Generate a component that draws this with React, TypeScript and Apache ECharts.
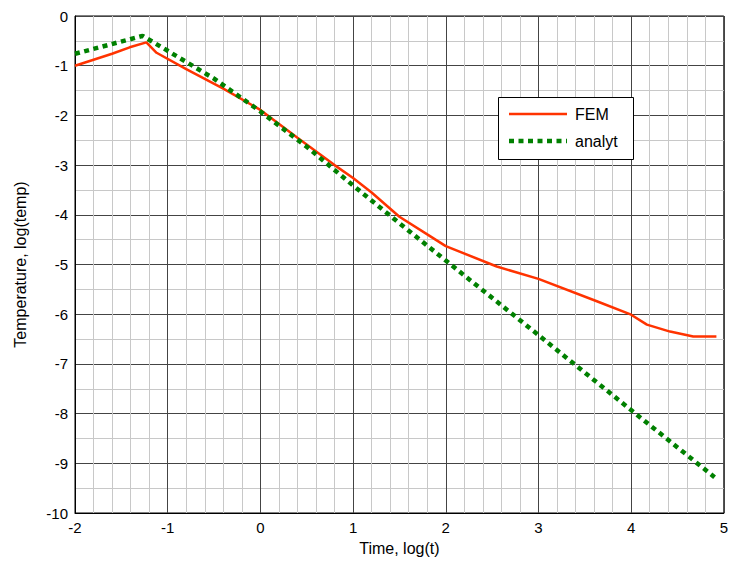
import React, { useEffect, useRef } from "react";
import * as echarts from "echarts";

const femX = [-2, -1.6, -1.41, -1.23, -1.12, -0.8, -0.4, 0, 0.4, 0.8, 1, 1.2, 1.5, 1.83, 2, 2.55, 3, 3.63, 4, 4.17, 4.42, 4.67, 4.92];
const femY = [-1.0, -0.76, -0.63, -0.53, -0.74, -1.07, -1.46, -1.89, -2.45, -3.0, -3.26, -3.55, -4.04, -4.43, -4.63, -5.04, -5.29, -5.74, -6.01, -6.21, -6.35, -6.45, -6.45];

const anX = [-2, -1.27, -1, -0.5, 0, 0.5, 1, 1.5, 2, 3, 4, 4.9];
const anY = [-0.76, -0.4, -0.7, -1.26, -1.92, -2.63, -3.41, -4.17, -4.92, -6.42, -7.93, -9.28];

const seriesNames = ["FEM", "analyt"];

const FONT = "Liberation Sans";
const RED = "#ff3300";
const GREEN = "#008000";

export default function App() {
  const ref = useRef<HTMLDivElement>(null);
  useEffect(() => {
    if (!ref.current) return;
    const chart = echarts.init(ref.current, undefined, { renderer: "svg" });
    const fem = femX.map((x, i) => [x, femY[i]]);
    const an = anX.map((x, i) => [x, anY[i]]);
    const LX = 498;
    const LY = 97;
    chart.setOption({
      animation: false,
      backgroundColor: "#fff",
      grid: {
        left: 75,
        right: 7,
        top: 16,
        bottom: 56,
        show: true,
        borderColor: "#000",
        borderWidth: 1,
        backgroundColor: "transparent",
      },
      graphic: [
        {
          type: "rect",
          z: 100,
          shape: { x: LX + 0.5, y: LY + 0.5, width: 135, height: 62 },
          style: { fill: "#fff", stroke: "#000", lineWidth: 1 },
        },
        {
          type: "line",
          z: 101,
          shape: { x1: LX + 11, y1: LY + 17, x2: LX + 69, y2: LY + 17 },
          style: { stroke: RED, lineWidth: 2.5 },
        },
        {
          type: "line",
          z: 101,
          shape: { x1: LX + 11, y1: LY + 44, x2: LX + 69, y2: LY + 44 },
          style: { stroke: GREEN, lineWidth: 4.5, lineDash: [5, 4.5], lineCap: "butt" },
        },
        {
          type: "text",
          z: 101,
          x: LX + 77,
          y: LY + 17,
          style: { text: seriesNames[0], font: `16px "${FONT}"`, fill: "#000", verticalAlign: "middle", align: "left" },
        },
        {
          type: "text",
          z: 101,
          x: LX + 77,
          y: LY + 44,
          style: { text: seriesNames[1], font: `16px "${FONT}"`, fill: "#000", verticalAlign: "middle", align: "left" },
        },
      ],
      xAxis: {
        type: "value",
        min: -2,
        max: 5,
        interval: 1,
        name: "Time, log(t)",
        nameLocation: "middle",
        nameGap: 27,
        nameTextStyle: { fontFamily: FONT, fontSize: 16, color: "#000" },
        axisLine: { show: true, onZero: false, lineStyle: { color: "#000", width: 1 } },
        axisTick: { show: false },
        axisLabel: { fontFamily: FONT, fontSize: 15, color: "#000", margin: 7 },
        splitLine: { show: true, lineStyle: { color: "#444", width: 1 } },
        minorTick: { show: false, splitNumber: 5 },
        minorSplitLine: { show: true, lineStyle: { color: "#c8c8c8", width: 1 } },
      },
      yAxis: {
        type: "value",
        min: -10,
        max: 0,
        interval: 1,
        name: "Temperature, log(temp)",
        nameLocation: "middle",
        nameGap: 47,
        nameTextStyle: { fontFamily: FONT, fontSize: 16, color: "#000" },
        axisLine: { show: true, onZero: false, lineStyle: { color: "#000", width: 1 } },
        axisTick: { show: false },
        axisLabel: { fontFamily: FONT, fontSize: 15, color: "#000", margin: 7 },
        splitLine: { show: true, lineStyle: { color: "#444", width: 1 } },
        minorTick: { show: false, splitNumber: 2 },
        minorSplitLine: { show: true, lineStyle: { color: "#c8c8c8", width: 1 } },
      },
      series: [
        {
          name: seriesNames[0],
          type: "line",
          data: fem,
          symbol: "none",
          showSymbol: false,
          smooth: false,
          lineStyle: { color: RED, width: 2.5 },
          itemStyle: { color: RED },
          z: 3,
        },
        {
          name: seriesNames[1],
          type: "line",
          data: an,
          symbol: "none",
          showSymbol: false,
          smooth: false,
          lineStyle: { color: GREEN, width: 4.5, type: [5, 4.5], cap: "butt" },
          itemStyle: { color: GREEN },
          z: 4,
        },
      ],
    });
    return () => chart.dispose();
  }, []);
  return (
    <div
      ref={ref}
      style={{ position: "fixed", left: 0, top: 0, width: 731, height: 569, background: "#fff" }}
    />
  );
}
